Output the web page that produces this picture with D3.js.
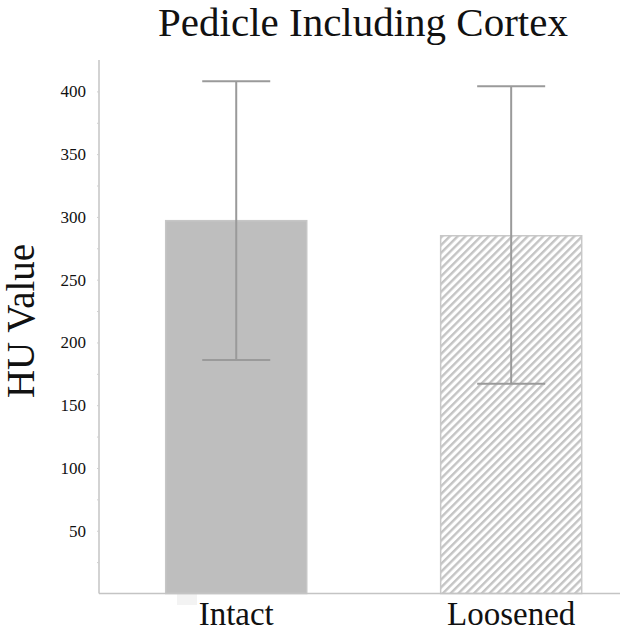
<!DOCTYPE html>
<html><head><meta charset="utf-8">
<script src="https://cdn.jsdelivr.net/npm/d3@7"></script>
<style>body{margin:0;background:#fff}svg{display:block}</style>
</head><body>
<script>
const categories = ["Intact", "Loosened"];
const means = [297, 285];
const errLow = [186, 167];
const errHigh = [408, 404];
const yTicks = [50, 100, 150, 200, 250, 300, 350, 400];
const minorTicks = [25, 75, 125, 175, 225, 275, 325, 375];
const title = "Pedicle Including Cortex";
const yLabel = "HU Value";

const W = 629, H = 633;
const svg = d3.select("body").append("svg").attr("width", W).attr("height", H);
const defs = svg.append("defs");
const pat = defs.append("pattern").attr("id","hatch").attr("patternUnits","userSpaceOnUse")
  .attr("width",5.5).attr("height",5.5).attr("patternTransform","rotate(45)");
pat.append("rect").attr("width",5.5).attr("height",5.5).attr("fill","#fff");
pat.append("rect").attr("x",0).attr("y",0).attr("width",2.4).attr("height",5.5).attr("fill","#c4c4c4");

const font = "'Liberation Serif','Times New Roman',serif";
const y = d3.scaleLinear().domain([0, 425]).range([593.5, 60]);
const x = d3.scaleBand().domain(categories).range([165.7, 581.7]).paddingInner(0.487).paddingOuter(0);

// artifact
svg.append("rect").attr("x",177).attr("y",594).attr("width",20).attr("height",11).attr("fill","#f3f3f3");

// bars
svg.selectAll("rect.bar").data(categories).enter().append("rect").attr("class","bar")
  .attr("x", d => x(d)).attr("width", x.bandwidth())
  .attr("y", (d,i) => y(means[i])).attr("height", (d,i) => y(0) - y(means[i]))
  .attr("fill", (d,i) => i === 0 ? "#bebebe" : "url(#hatch)")
  .attr("stroke", (d,i) => i === 0 ? "#c6c6c6" : "#c8c8c8").attr("stroke-width", 1.5);

// error bars
const eg = svg.append("g").attr("stroke","#9a9a9a").attr("stroke-width",2);
categories.forEach((c,i) => {
  const cx = x(c) + x.bandwidth()/2;
  eg.append("line").attr("x1",cx).attr("x2",cx).attr("y1",y(errLow[i])).attr("y2",y(errHigh[i]));
  eg.append("line").attr("x1",cx-34).attr("x2",cx+34).attr("y1",y(errLow[i])).attr("y2",y(errLow[i]));
  eg.append("line").attr("x1",cx-34).attr("x2",cx+34).attr("y1",y(errHigh[i])).attr("y2",y(errHigh[i]));
});

// axes lines
svg.append("line").attr("x1",99).attr("x2",99).attr("y1",60).attr("y2",593.5).attr("stroke","#c4c4c4").attr("stroke-width",1.5);
svg.append("line").attr("x1",99).attr("x2",620).attr("y1",593.5).attr("y2",593.5).attr("stroke","#c4c4c4").attr("stroke-width",1.5);

// y axis
const ya = svg.append("g").attr("transform","translate(99,0)")
  .call(d3.axisLeft(y).tickValues(yTicks).tickSize(2).tickPadding(11));
ya.select(".domain").remove();
ya.selectAll(".tick line").attr("stroke","#d0d0d0");
ya.selectAll(".tick text").attr("font-family",font).attr("font-size",17).attr("fill","#111").attr("dy","0.32em");
const ym = svg.append("g").attr("transform","translate(99,0)")
  .call(d3.axisLeft(y).tickValues(minorTicks).tickSize(2).tickFormat(""));
ym.select(".domain").remove();
ym.selectAll(".tick line").attr("stroke","#d0d0d0");

// x axis
const xa = svg.append("g").attr("transform","translate(0,593.5)")
  .call(d3.axisBottom(x).tickSize(0).tickPadding(8));
xa.select(".domain").remove();
xa.selectAll(".tick text").attr("font-family",font).attr("font-size",33).attr("fill","#111").attr("dy","0.71em");

// title
svg.append("text").attr("x",363).attr("y",36).attr("text-anchor","middle")
  .attr("font-family",font).attr("font-size",41).attr("fill","#111").text(title);
// y label
svg.append("text").attr("transform","translate(34,321) rotate(-90)").attr("text-anchor","middle")
  .attr("font-family",font).attr("font-size",39).attr("fill","#111").text(yLabel);
</script>
</body></html>
